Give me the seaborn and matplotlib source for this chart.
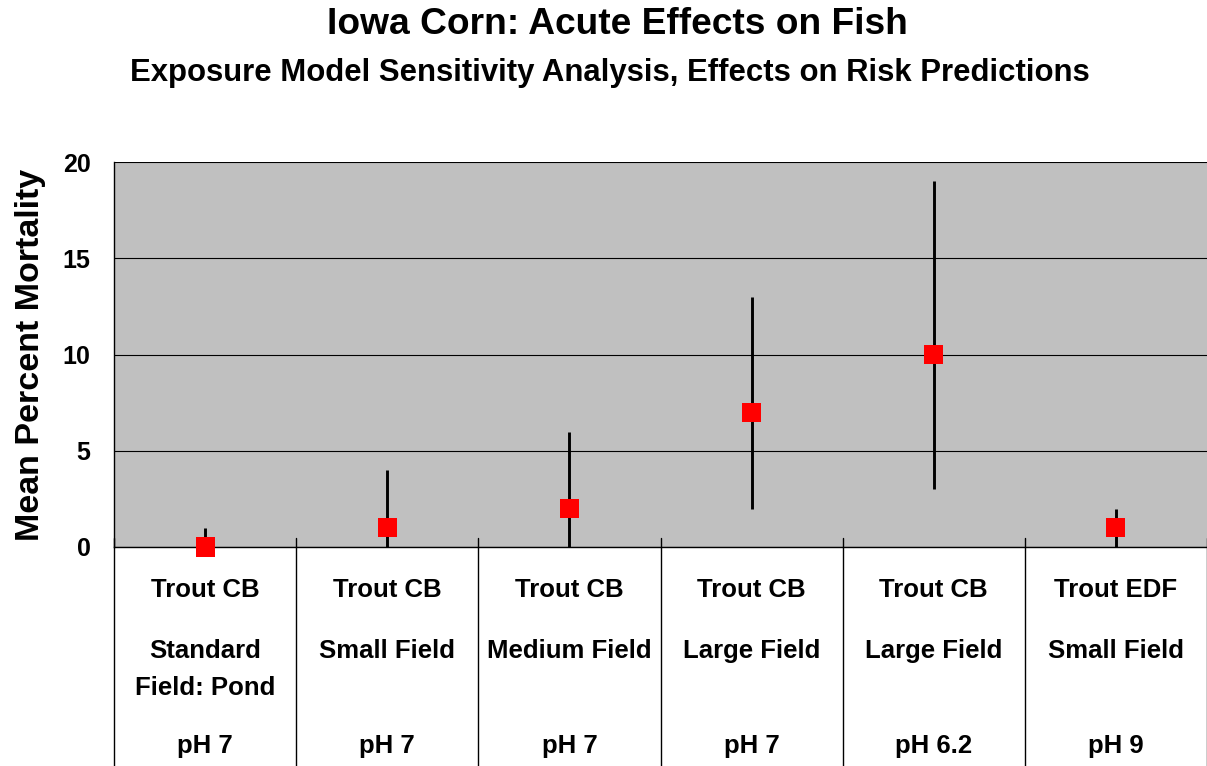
import pandas as pd
import seaborn as sns
import matplotlib.pyplot as plt
import matplotlib.transforms as mtransforms

# Data
species = ["Trout CB", "Trout CB", "Trout CB", "Trout CB", "Trout CB", "Trout EDF"]
scenario = ["Standard\nField: Pond", "Small Field", "Medium Field", "Large Field", "Large Field", "Small Field"]
ph = ["pH 7", "pH 7", "pH 7", "pH 7", "pH 6.2", "pH 9"]
mean_mortality = [0, 1, 2, 7, 10, 1]
low_mortality = [0, 0, 0, 2, 3, 0]
high_mortality = [1, 4, 6, 13, 19, 2]

df = pd.DataFrame({
    "pos": range(len(species)),
    "mean": mean_mortality,
    "low": low_mortality,
    "high": high_mortality,
})

sns.set_style("white", {"axes.facecolor": "#C0C0C0"})
plt.rcParams["font.family"] = ["Liberation Sans", "DejaVu Sans"]
plt.rcParams["font.weight"] = "bold"
plt.rcParams["text.color"] = "black"
plt.rcParams["axes.labelcolor"] = "black"
plt.rcParams["ytick.color"] = "black"

fig = plt.figure(figsize=(12.07, 7.66), dpi=100)
ax = fig.add_axes([114 / 1207, 1 - 547 / 766, 1 - 114 / 1207, 385 / 766])

# Error bars then the mean markers
ax.vlines(df["pos"], df["low"], df["high"], color="black", linewidth=2.1, zorder=3)
sns.scatterplot(data=df, x="pos", y="mean", marker="s", color="#FF0000",
                s=190, edgecolor="none", zorder=4, clip_on=False, ax=ax)

ax.set_xlim(-0.5, len(species) - 0.5)
ax.set_ylim(0, 20)
ax.set_yticks([0, 5, 10, 15, 20])
ax.yaxis.grid(True, color="black", linewidth=0.8)
ax.set_axisbelow(True)
ax.tick_params(axis="y", direction="out", length=6, width=1, color="black",
               labelsize=18, pad=11)
for lab in ax.get_yticklabels():
    lab.set_fontweight("bold")
ax.set_xticks([])
ax.set_xlabel("")
ax.set_ylabel("Mean Percent Mortality", fontsize=24.5, fontweight="bold")
ax.yaxis.set_label_coords(-(114 - 46) / 1093, 0.5)

for side in ["top", "right"]:
    ax.spines[side].set_visible(False)
ax.spines["left"].set_color("black")
ax.spines["bottom"].set_color("black")
ax.spines["left"].set_linewidth(1)
ax.spines["bottom"].set_linewidth(1)

# Category separators running down through the label table
trans = mtransforms.blended_transform_factory(ax.transData, ax.transAxes)
for b in [i - 0.5 for i in range(len(species) + 1)]:
    ax.plot([b, b], [0.024, -0.7], color="black", linewidth=1,
            transform=trans, clip_on=False, zorder=5)

# Category labels
ftrans = mtransforms.blended_transform_factory(ax.transData, fig.transFigure)
for i in range(len(species)):
    ax.text(i, 1 - 597 / 766, species[i], transform=ftrans, ha="center",
            va="baseline", fontsize=18.5, fontweight="bold")
    for k, line in enumerate(scenario[i].split("\n")):
        ax.text(i, 1 - (658 + 37 * k) / 766, line, transform=ftrans, ha="center",
                va="baseline", fontsize=18.5, fontweight="bold")
    ax.text(i, 1 - 753 / 766, ph[i], transform=ftrans, ha="center",
            va="baseline", fontsize=18.5, fontweight="bold")

fig.text(617 / 1207, 1 - 34 / 766, "Iowa Corn: Acute Effects on Fish",
         ha="center", va="baseline", fontsize=26.7, fontweight="bold")
fig.text(610 / 1207, 1 - 81 / 766, "Exposure Model Sensitivity Analysis, Effects on Risk Predictions",
         ha="center", va="baseline", fontsize=22.4, fontweight="bold")

fig.savefig("out.png", dpi=100)
